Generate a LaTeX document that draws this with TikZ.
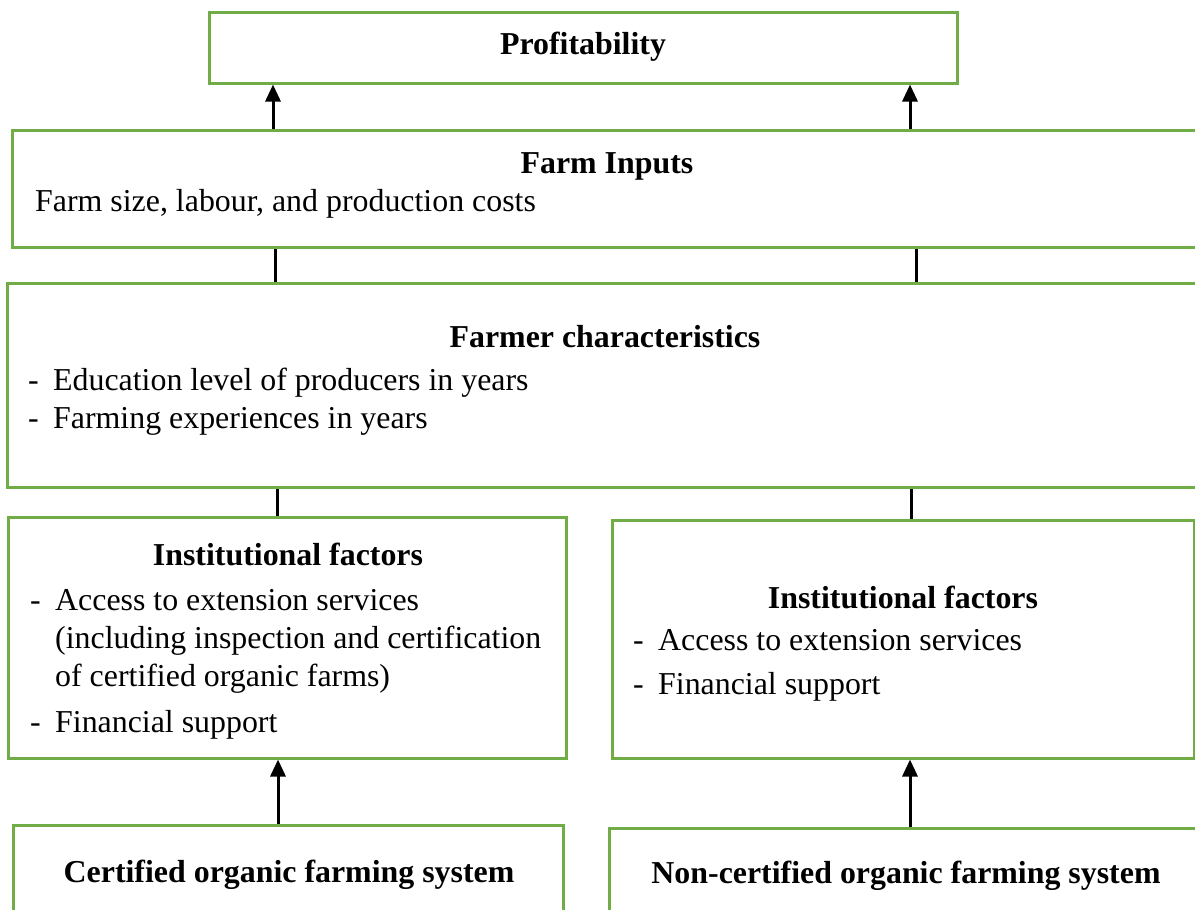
\documentclass[tikz,border=0pt]{standalone}
\usepackage{fontspec}
\setmainfont{Liberation Serif}
\usetikzlibrary{arrows.meta}
\definecolor{boxgreen}{HTML}{70AD47}
\tikzset{
  box/.style={draw=boxgreen, line width=3bp, rectangle, inner sep=0pt},
  ttl/.style={font=\fontsize{32}{36}\selectfont\bfseries, inner sep=0pt, anchor=base},
  txt/.style={font=\fontsize{32}{36}\selectfont, inner sep=0pt, anchor=base west},
  link/.style={line width=3bp, black},
  uparrow/.style={link, -{Triangle[width=15bp,length=17bp]}}
}
\newcommand{\itm}[1]{\makebox[25bp][l]{-}#1}
\begin{document}
\begin{tikzpicture}[x=1bp,y=-1bp]
\clip (0,0) rectangle (1195,910);
\fill[white] (0,0) rectangle (1195,910);

% boxes (centre, width, height)
\node[box, minimum width=747bp, minimum height=71bp] (prof) at (583.5,47.5) {};
\node[box, minimum width=1202bp, minimum height=117bp] (inputs) at (614,188.5) {};
\node[box, minimum width=1207bp, minimum height=204bp] (farmer) at (611.5,385) {};
\node[box, minimum width=557bp, minimum height=241bp] (instL) at (287.5,637.5) {};
\node[box, minimum width=582bp, minimum height=238bp] (instR) at (903,639) {};
\node[box, minimum width=549bp, minimum height=125bp] (cert) at (288.5,887.5) {};
\node[box, minimum width=606bp, minimum height=122bp] (noncert) at (912,889) {};

% texts
\node[ttl] (profT) at (583,54) {Profitability};
\node[ttl] (inputsT) at (607,173) {Farm Inputs};
\node[txt] (inputsA) at (35,211) {Farm size, labour, and production costs};
\node[ttl] (farmerT) at (605,347) {Farmer characteristics};
\node[txt] (farmerA) at (28,390) {\itm{Education level of producers in years}};
\node[txt] (farmerB) at (28,428) {\itm{Farming experiences in years}};
\node[ttl] (instLT) at (288,565) {Institutional factors};
\node[txt] (instLA) at (30,610) {\itm{Access to extension services}};
\node[txt] (instLB) at (55,648) {(including inspection and certification};
\node[txt] (instLC) at (55,686) {of certified organic farms)};
\node[txt] (instLD) at (30,732) {\itm{Financial support}};
\node[ttl] (instRT) at (903,608) {Institutional factors};
\node[txt] (instRA) at (633,650) {\itm{Access to extension services}};
\node[txt] (instRB) at (633,694) {\itm{Financial support}};
\node[ttl] (certT) at (289,882) {Certified organic farming system};
\node[ttl] (noncertT) at (906,883) {Non-certified organic farming system};

% connectors
\draw[uparrow] (273,0 |- inputs.north) -- (273,0 |- prof.south);
\draw[uparrow] (910,0 |- inputs.north) -- (910,0 |- prof.south);
\draw[link] (275,0 |- farmer.north) -- (275,0 |- inputs.south);
\draw[link] (916,0 |- farmer.north) -- (916,0 |- inputs.south);
\draw[link] (277,0 |- instL.north) -- (277,0 |- farmer.south);
\draw[link] (911,0 |- instR.north) -- (911,0 |- farmer.south);
\draw[uparrow] (278,0 |- cert.north) -- (278,0 |- instL.south);
\draw[uparrow] (910,0 |- noncert.north) -- (910,0 |- instR.south);
\end{tikzpicture}
\end{document}
